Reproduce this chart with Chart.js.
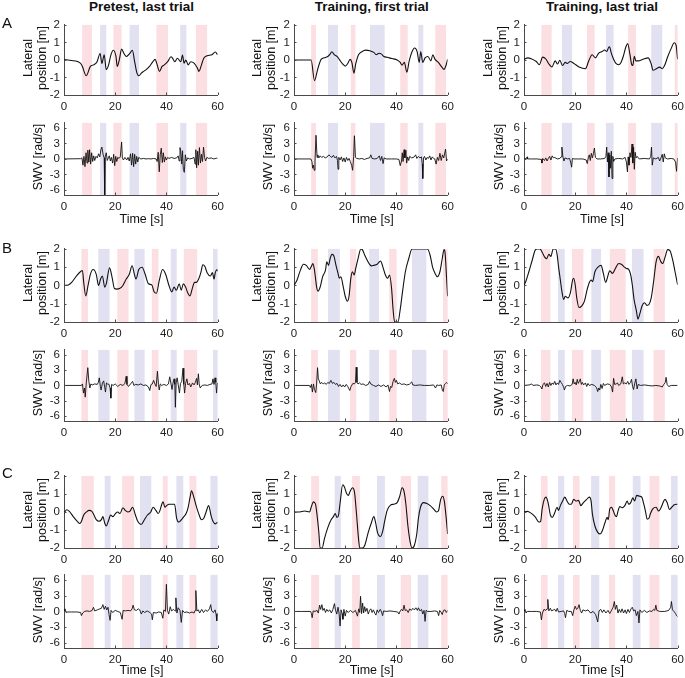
<!DOCTYPE html>
<html><head><meta charset="utf-8">
<script src="https://cdn.jsdelivr.net/npm/chart.js@4.4.0/dist/chart.umd.min.js"></script>
<style>
html,body{margin:0;padding:0;background:#fff;width:685px;height:678px;overflow:hidden;}
body{position:relative;font-family:"Liberation Sans",Arial,Helvetica,sans-serif;color:#111;}
canvas{position:absolute;}
.t{position:absolute;white-space:nowrap;line-height:1;}
.title{font-weight:bold;font-size:13.5px;transform:translateX(-50%);}
.letter{font-size:15px;}
.ylab{font-size:12.5px;line-height:14px;text-align:center;transform:translate(-50%,-50%) rotate(-90deg);}
.xlab{font-size:12.5px;line-height:14px;transform:translate(-50%,-50%);}
</style></head><body>
<script>
// ---------- tick labels / categories ----------
const columnTitles = ["Pretest, last trial", "Training, first trial", "Training, last trial"];
const rowLetters = ["A", "B", "C"];
const timeTicks = [0, 20, 40, 60];
const latTicks = [-2, -1, 0, 1, 2];
const swvTicks = [-6, -3, 0, 3, 6];

// ---------- stimulus bands [start, end] (s) ----------
const pinkA1 = [[7.1,10.9],[19.3,22.5],[36.1,40.6],[51.5,55.9]];
const blueA1 = [[14.1,16.5],[25.6,29.3],[45.4,47.8]];
const pinkA2 = [[6.7,8.6],[22.2,24.0],[41.5,44.4],[55.2,59.4]];
const blueA2 = [[13.3,17.2],[29.7,35.4],[48.6,50.5]];
const pinkA3 = [[6.8,10.8],[24.6,27.6],[40.7,43.7],[58.9,60]];
const blueA3 = [[14.8,18.8],[32.0,35.0],[49.7,54.0]];
const pinkB1 = [[6.8,9.4],[20.8,25.2],[34.3,36.9],[46.8,52.0]];
const blueB1 = [[13.4,17.8],[27.5,31.5],[41.7,44.0],[58.2,60]];
const pinkB2 = [[6.7,9.3],[21.9,24.3],[37.2,40.1],[58.2,60]];
const blueB2 = [[13.3,17.9],[29.4,33.2],[46.1,51.7]];
const pinkB3 = [[6.6,10.3],[18.7,23.2],[33.5,39.7],[50.6,55.0]];
const blueB3 = [[13.3,15.9],[26.3,30.1],[42.2,46.7]];
const pinkC1 = [[6.8,11.6],[22.7,27.4],[38.6,40.5],[49.0,51.7]];
const blueC1 = [[15.9,18.2],[29.7,34.1],[43.9,46.6],[57.2,60]];
const pinkC2 = [[6.7,9.8],[22.7,25.7],[41.7,45.7],[57.5,60]];
const blueC2 = [[15.9,18.3],[32.4,35.5],[48.3,52.5]];
const pinkC3 = [[6.6,9.2],[19.1,21.7],[33.2,35.6],[49.0,52.9]];
const blueC3 = [[13.3,15.7],[26.2,29.4],[42.5,45.5],[57.4,60]];

// ---------- lateral position [t (s), m] ----------
const latA1 = [[0,0.03],[3,-0.03],[6.4,-0.18],[7.1,-0.35],[8.7,-0.9],[10.3,-0.37],[11.6,-0.28],[12.9,-0.1],[14.1,0.37],[14.8,-0.2],[15.7,0.3],[16.5,-0.55],[17.4,-0.3],[18.3,0.28],[19.3,0.55],[20.3,0.2],[20.8,-0.37],[21.6,0],[22.5,0.62],[23.4,0.37],[24.4,0.2],[25.7,0.37],[26.7,0.55],[27.6,-0.1],[28.5,-0.75],[29.3,-0.9],[30.2,-0.75],[31.1,-0.65],[32.1,-0.55],[33.4,-0.37],[34.7,-0.1],[35.6,0.03],[36.2,-0.18],[37.3,-0.65],[38.3,-0.37],[39.2,-0.28],[40.5,-0.1],[41.8,0.18],[42.4,0.1],[43.3,-0.1],[44.3,0.1],[45.6,-0.1],[46.3,0.28],[46.9,-0.18],[47.6,0],[48.5,-0.28],[49.5,-0.1],[50.8,-0.18],[52.1,-0.46],[52.7,-0.65],[53.7,-0.28],[54.6,0.1],[55.9,0.24],[57.8,0.3],[59.1,0.45],[60,0.3]];
const latA2 = [[0,0],[6.7,0],[8,-1.18],[9.3,-0.5],[10.6,0.03],[11.9,0.12],[13.2,0.2],[14.1,0.33],[14.8,0.47],[15.7,0.3],[16.8,0.2],[17.7,0.03],[19,-0.23],[20,-0.35],[21,-0.2],[21.9,0.03],[22.6,-0.14],[23.4,-0.75],[24.1,-0.23],[25.2,0.3],[26.5,0.47],[28,0.56],[29.7,0.52],[31.2,0.43],[32.1,0.3],[33.2,0.38],[34.2,0.33],[35.1,0.2],[36.4,0.15],[38.3,0.08],[40.3,0],[41.5,-0.14],[42.2,-0.3],[43.1,-0.14],[44.1,-0.7],[45,-0.05],[46.1,0.47],[47.1,0.68],[48.1,0.47],[48.9,-0.14],[49.5,0.47],[50.3,-0.14],[51.2,0.12],[52.3,0.2],[53.5,-0.05],[54.2,0.3],[55.1,0.03],[56.4,-0.14],[57.7,-0.4],[58.6,-0.54],[59.4,-0.3],[60,0.03]];
const latA3 = [[0,0.03],[1.5,0.12],[2.8,0.07],[4.8,-0.09],[6,-0.27],[7.3,0.16],[8.6,0.04],[9.6,-0.2],[10.9,-0.4],[12.2,-0.05],[13.1,-0.23],[14,-0.02],[15,-0.32],[16.1,-0.14],[17,-0.2],[18,-0.09],[19.5,-0.2],[21.5,-0.4],[24,-0.5],[25.3,-0.05],[26.6,0.3],[27.9,0.12],[29.2,0.39],[30.5,0.48],[31.5,0.57],[32.3,0.48],[33,0.7],[33.4,0.75],[34.1,0.39],[35,0.04],[35.9,-0.2],[36.9,-0.27],[37.9,-0.14],[38.8,0.21],[39.8,0.75],[40.5,0.93],[41.4,0.3],[42,-0.23],[42.5,-0.32],[43.1,0.21],[43.7,-0.05],[44.6,-0.05],[46.5,0.04],[48.5,0.12],[49.7,-0.23],[50.4,-0.59],[51.7,-0.5],[53,-0.41],[54,-0.5],[54.9,-0.32],[56.2,0.21],[57.5,0.66],[58.7,0.98],[59.4,0.84],[60,0.04]];
const latB1 = [[0,0],[1.7,0.03],[3,0.17],[4.9,0.52],[6.6,0.78],[7.2,0.82],[7.7,0.17],[8.5,-0.57],[9.4,0],[10.3,0.61],[11.4,0.87],[12.6,0.61],[13.5,0],[14.3,0.35],[15,0.52],[15.9,-0.09],[16.5,0.09],[17.8,0.96],[18.8,0.43],[19.7,-0.17],[20.6,-0.2],[21.7,-0.17],[23,0],[24.3,0.35],[25.5,0.61],[26.6,1.08],[27.5,0.61],[28.1,0.35],[29.2,0.87],[30.5,1.0],[31.7,0.61],[33,0.09],[34.3,0.03],[35.2,-0.35],[36.1,-0.43],[37.2,0.26],[38.5,0.87],[39.7,0.61],[41,0],[42.1,-0.35],[43,-0.09],[43.9,-0.26],[45,0.09],[45.8,-0.26],[46.6,0.09],[47.5,-0.09],[48.4,-0.43],[49.2,-0.57],[50.1,-0.17],[51,0.17],[51.7,0.17],[52.6,0.35],[53.5,0.73],[54.2,1.13],[55,1.05],[55.9,0.7],[57.2,0.52],[58,0.7],[58.6,0.35],[59.1,0.7],[59.7,0.87],[60,0.78]];
const latB2 = [[0,0],[1.2,0.3],[2.5,0.84],[3.7,1.16],[4.8,1.1],[6.1,0.88],[6.7,1.02],[7.4,1.2],[8,0.84],[8.9,-0.14],[9.4,-0.32],[10.3,-0.05],[11.2,0.48],[12.3,0.84],[12.8,1.29],[13.5,1.1],[14.1,1.46],[14.8,1.7],[15.5,1.64],[16.4,1.1],[17.2,0.66],[17.7,0.39],[18.3,0.48],[19.2,-0.05],[20,-0.59],[20.9,-0.86],[21.5,-0.59],[22.2,0.39],[22.8,0.75],[23.5,0.57],[24.1,0.93],[25,1.46],[26.1,2.0],[26.7,1.96],[27.7,1.64],[28.6,1.38],[29.3,1.2],[30.2,1.07],[31.2,1.1],[32.5,1.16],[33.8,1.34],[34.7,1.02],[35.7,0.57],[36.6,0.39],[37.3,0.57],[38.1,-0.14],[38.7,-1.3],[39.3,-2],[40.6,-2],[41.5,-1.3],[42.5,-0.23],[43.5,0.75],[44.8,1.46],[46.1,2.0],[52.1,2.0],[53.2,1.64],[54.1,1.02],[55.1,0.66],[56,0.48],[57,0.75],[57.9,1.46],[58.6,1.96],[59,1.8],[59.6,0.39],[60,-0.59]];
const latB3 = [[0,0],[0.9,0.3],[1.9,0.75],[3.2,1.38],[4.3,1.91],[5.2,2.0],[6.2,2.0],[7.1,1.82],[8.1,1.55],[8.8,1.46],[9.7,1.7],[10.5,1.59],[11.4,2.0],[12.3,2.0],[12.9,1.73],[13.5,1.02],[14.2,0.3],[14.8,-0.32],[15.5,-0.77],[16.1,-0.59],[17.2,-0.68],[18.1,-0.41],[19,0.3],[19.4,0.39],[20,0.04],[20.6,-0.68],[21.5,-1.21],[22.6,-1.12],[23.6,-0.86],[24.5,-0.32],[25.4,0.12],[26.2,0.3],[26.8,0.21],[27.7,0.75],[29,1.02],[30.1,1.1],[31,0.66],[31.9,0.16],[32.5,0.39],[33.5,0.8],[34.6,0.66],[35.7,0.93],[37,1.2],[38,1.16],[39.1,1.02],[40,0.93],[40.9,0.88],[41.7,0.57],[42.3,0.04],[43,-0.77],[43.9,-1.39],[44.5,-1.84],[45.2,-1.57],[46.1,-1.12],[47.1,-0.95],[48,-1.09],[48.8,-1.04],[49.7,-0.68],[50.7,0.3],[51.6,1.29],[52.5,1.59],[53.5,1.29],[54.2,1.2],[55.1,1.55],[56.1,1.96],[57,1.91],[58.1,1.38],[59,0.75],[60,0.04]];
const latC1 = [[0,-0.09],[1,0.12],[2.1,0.03],[3.6,-0.26],[5.2,-0.52],[6.2,-0.64],[6.8,-0.52],[7.7,-0.17],[8.8,0],[9.8,0.09],[10.8,0.05],[11.7,-0.17],[12.6,-0.43],[13.7,-0.52],[14.6,-0.43],[15.2,-0.26],[15.9,-0.61],[16.5,-0.78],[17.5,-0.43],[18.2,-0.17],[19.1,-0.26],[20.1,-0.09],[21,0],[21.9,-0.09],[23,0.23],[23.9,0.09],[24.9,0],[25.8,0.05],[26.8,0.26],[27.9,-0.17],[28.8,-0.52],[30.1,-0.7],[31.4,-0.43],[32.6,-0.17],[33.9,0],[34.8,0.26],[35.9,0.09],[36.8,-0.09],[37.5,0.09],[38.2,0.43],[38.7,0.57],[39.4,0.26],[40.1,0.35],[41,0.43],[42.3,0.43],[43.2,0.43],[44,-0.35],[44.9,-0.56],[45.9,-0.43],[46.8,-0.26],[47.7,-0.09],[48.5,0.26],[49.2,0.78],[49.8,1.18],[50.7,0.82],[51.6,0.35],[52.6,-0.09],[53.7,-0.43],[54.6,-0.35],[55.5,0],[56.5,0.35],[57.4,-0.17],[58.2,-0.52],[59.1,-0.66],[60,-0.57]];
const latC2 = [[0,0],[2.2,0],[4.1,0.05],[6.1,0],[6.7,0.26],[7.6,0.56],[8.4,0.43],[9,-0.17],[9.7,-1.13],[10.2,-2],[11,-2],[11.9,-1.48],[13.2,-0.87],[14.5,-0.43],[15.4,-0.26],[16.1,-0.09],[16.8,-0.31],[17.4,-0.17],[18.1,0.61],[19,1.51],[19.7,1.39],[20.5,1.04],[21.2,0.92],[21.9,1.13],[22.8,1.34],[23.6,1.13],[24.4,-0.09],[25.2,-1.48],[25.7,-2],[26.7,-2],[27.7,-1.83],[29,-1.13],[30.2,-0.61],[31.2,-0.26],[31.9,-0.61],[32.6,-1.13],[33.8,-1.36],[34.7,-1.04],[35.4,-0.52],[36.4,0.09],[37.7,0.38],[39,0.43],[40.3,0.52],[41.3,0.87],[42.2,1.34],[43,1.13],[43.7,0.43],[44.5,-0.78],[45.4,-1.69],[46.1,-2],[47,-1.86],[48,-1.17],[48.6,-0.35],[49.4,0.26],[50.6,0.52],[51.9,0.47],[53.2,0.35],[54.5,0.17],[55.7,0],[56.4,0.05],[57.3,0.7],[58.1,0.87],[58.7,0.61],[59.4,-0.26],[60,-1.22]];
const latC3 = [[0,0],[1.3,0.03],[2.6,-0.05],[4.3,-0.26],[5.8,-0.56],[6.5,-0.52],[7.1,0.17],[7.9,0.7],[8.6,0.82],[9.4,0.52],[10.3,-0.17],[11,-0.31],[12,-0.05],[12.9,0.26],[13.5,0.09],[14.2,0.35],[15.1,0.61],[15.9,0.82],[16.8,0.61],[17.7,0.43],[18.5,0.43],[19.4,0.7],[20.3,0.61],[21.3,0.64],[22.2,0.35],[23.2,0.52],[24.5,0.7],[25.5,0.82],[26.2,0.61],[26.7,-0.09],[27.7,-0.78],[28.8,-1.13],[29.7,-1.22],[30.6,-1.04],[31.6,-0.61],[32.5,-0.3],[32.9,-0.43],[33.5,0.17],[34.2,0.26],[34.8,0.09],[35.5,-0.17],[36.1,-0.26],[36.8,0.09],[37.4,0.3],[38.3,0.23],[39.4,0.35],[40.3,0.61],[40.9,0.43],[41.7,0.52],[42.5,0.78],[43.2,0.61],[44,0.92],[45.2,0.87],[46,0.82],[46.8,0.43],[47.5,0],[48.1,-0.4],[48.8,-0.35],[49.4,-0.09],[50.3,0.17],[51.6,0.26],[52.6,0.05],[53.5,0.23],[54.6,0.61],[55.1,0.7],[55.9,0.52],[56.8,0.14],[57.7,0.26],[58.7,0.4],[60,0.43]];

// ---------- steering wheel velocity [t (s), rad/s] ----------
const swvA1 = [[0,0],[6.5,0.05],[7,0.2],[7.4,-1.2],[7.8,0.5],[8.2,-1.5],[8.6,1.2],[9,-0.8],[9.3,1.7],[9.7,-0.6],[10,1.8],[10.4,-1.0],[10.8,1.2],[11.2,-0.5],[11.6,0.6],[12,-0.3],[12.5,0.5],[13,0.2],[13.5,1.0],[14,0.4],[14.4,1.8],[14.8,2.3],[15.3,0.8],[15.7,0.2],[15.9,-7.5],[16.1,0.4],[16.5,1.2],[16.9,-0.3],[17.3,0.2],[17.7,0.6],[18.1,-0.4],[18.5,0.3],[19,-0.8],[19.4,0.9],[19.8,-1.3],[20.2,0.5],[20.6,-0.5],[21,0.3],[21.5,0.1],[22,0.4],[22.5,3.3],[22.8,0.2],[23.2,-0.2],[23.8,0.3],[24.5,-0.2],[25,0.3],[25.5,-0.4],[26,1.0],[26.4,-1.2],[26.8,1.1],[27.2,-1.5],[27.6,0.9],[28,-1.0],[28.4,0.5],[28.8,-0.6],[29.2,0.3],[30,0],[31,0.1],[32,0],[33,0.05],[34,0],[35,0.1],[36,0],[36.4,-0.5],[36.8,1.3],[37.2,-2.5],[37.6,0.8],[38,2.1],[38.4,-0.7],[38.8,1.2],[39.2,-0.6],[39.6,0.4],[40,-0.2],[40.5,0.3],[41,0.1],[42,0.3],[43,0.1],[44,0.2],[44.6,0.6],[45,-0.4],[45.3,2.2],[45.6,1.5],[46,-1.0],[46.3,1.6],[46.6,-2.0],[47,-2.6],[47.4,0.8],[47.8,-0.4],[48.3,0.2],[49,0],[50,0.1],[50.8,0.3],[51.2,-1.0],[51.5,1.8],[51.8,-1.7],[52.2,1.5],[52.5,-1.2],[52.9,2.2],[53.3,-0.8],[53.7,0.9],[54.1,-0.5],[54.5,2.3],[54.9,0.3],[55.3,-0.4],[55.8,0.3],[56.5,0.1],[57.5,0.2],[58.5,0],[59.5,0.15],[60,0.1]];
const swvA2 = [[0,0],[6.6,0],[7,-0.5],[7.3,-1.8],[7.6,-1.2],[7.9,-2.2],[8.2,-0.5],[8.6,4.6],[9,0.3],[9.3,0.8],[9.7,0.2],[10.2,0.6],[10.8,0.3],[11.5,0.5],[12.2,0.2],[13,0.4],[13.6,0.8],[14.2,0.5],[14.8,0.3],[15.4,0.7],[16,0.2],[16.6,0.5],[17,-0.3],[17.2,-2.0],[17.5,0.3],[18,-0.2],[18.5,0.4],[19,-0.5],[19.5,0.2],[20,-0.6],[20.5,0.3],[21,-0.3],[21.5,0.1],[22,-0.5],[22.5,-1.2],[22.9,-2.2],[23.3,0.5],[23.6,4.5],[24,0.3],[24.5,0.1],[25.5,0],[26.5,0.1],[27.5,-0.1],[28.5,0.1],[29.5,0.2],[30,0.8],[30.5,0.1],[31.5,0],[32.5,0.1],[33.3,0.6],[33.8,-0.3],[34.3,0.5],[34.8,-0.9],[35.2,0.2],[36,0],[38,0],[40,0],[41,-0.1],[41.5,-1.3],[42,-0.4],[42.3,1.2],[42.6,-0.5],[43,1.8],[43.3,0.2],[43.7,1.7],[44,-0.8],[44.4,0.4],[44.8,-0.3],[45.2,0.5],[46,0.2],[47,0.4],[47.5,0.8],[48,0.1],[48.6,0.5],[49.2,0.2],[49.8,0.4],[50.1,-1.0],[50.3,-3.8],[50.6,0.2],[51,0.5],[51.5,-0.2],[52,0.3],[52.5,0.1],[53,0.6],[53.5,-0.2],[54,0.4],[54.5,0.1],[55,0],[55.5,-1.0],[56,0.3],[56.5,-0.3],[57,1.1],[57.5,-0.3],[58,0.8],[58.5,0.2],[59.2,1.9],[59.6,-0.4],[60,0]];
const swvA3 = [[0,0],[1,0.1],[1.2,0.4],[1.4,0],[3,0],[5,0],[6.8,-0.1],[7,-0.8],[7.3,0.1],[8,-0.3],[8.5,0.2],[9,-0.4],[9.5,0.1],[10,0.5],[10.5,-0.2],[11,0.6],[11.5,0.2],[12,0.3],[13,0],[14,0.1],[14.5,0.4],[14.8,2.3],[15.2,0.4],[15.6,-0.4],[16,0.2],[17,0],[17.8,0.1],[18.3,-0.8],[18.6,-1.6],[18.9,0.1],[19.5,0],[21,0],[23,0],[24.3,-0.2],[24.7,-0.9],[25.1,0.2],[25.5,0.8],[25.9,-0.3],[26.3,1.1],[26.7,0.2],[27.1,1.0],[27.5,2.1],[27.9,0.3],[28.5,0],[30,0],[31.5,0.1],[32,0.5],[32.3,2.3],[32.6,-0.6],[32.9,1.2],[33.2,-3.5],[33.5,0.8],[33.8,-1.8],[34.1,1.5],[34.4,-3.8],[34.7,0.5],[35,-0.5],[35.5,0],[37,0.1],[38.5,0],[39.5,0.3],[40,-0.6],[40.4,-2.5],[40.7,0.4],[41,-1.2],[41.4,1.2],[41.8,0.3],[42.2,2.9],[42.5,-0.8],[42.8,2.3],[43.1,-2.0],[43.4,1.3],[43.8,0.2],[44.2,0.5],[45,0],[47,0.1],[49,0],[49.5,0.5],[49.8,2.3],[50.1,-1.2],[50.5,0.2],[51.5,0],[52.5,0.3],[53,-0.4],[53.5,0.2],[54,0.9],[54.4,-0.6],[54.8,1.0],[55.2,0.2],[56,0],[57.5,0.1],[58.5,0],[59.2,-0.6],[59.6,-2.4],[60,0.2]];
const swvB1 = [[0,0],[6.8,0],[7.2,0.3],[7.6,-1.5],[8,-0.5],[8.3,-2.3],[8.7,0.5],[9.3,3.5],[9.7,0.8],[10.1,-0.5],[10.5,0.3],[11,0.1],[12,0.3],[13,0.2],[13.4,0.6],[13.8,1.5],[14.2,-0.2],[14.5,-0.9],[15,0.5],[15.5,0.9],[15.9,-0.4],[16.2,-1.3],[16.6,0.5],[17,0.3],[17.6,0.2],[18,-0.5],[18.3,-2.5],[18.6,0.2],[19.2,0],[20,0.3],[21,-0.2],[22,0.2],[23,0],[23.8,0.4],[24.3,1.8],[24.6,0.2],[25.2,-0.2],[26,0.3],[26.8,0.8],[27.3,0],[28,0.2],[29,0.1],[30,0.3],[31,0],[32,0.1],[33,-0.3],[33.5,-1.0],[34,0.2],[34.5,0.3],[35,1.0],[35.5,0.3],[36,-0.2],[36.5,2.8],[36.9,0.2],[37.2,-0.9],[37.6,0.3],[38.2,0],[39,0.2],[40,0],[40.8,0.3],[41.3,1.7],[41.8,0.3],[42.2,-0.8],[42.6,0.5],[43,1.3],[43.3,0.2],[43.5,-4.3],[43.8,0.5],[44.2,1.5],[44.6,0.2],[45.1,-1.5],[45.5,0.4],[46,0.8],[46.5,3.4],[46.8,0.2],[47.1,-1.5],[47.5,0.4],[48,1.3],[48.4,0.1],[49,0.4],[49.5,-0.3],[50.2,0.5],[50.8,0.1],[51.3,0.6],[51.8,1.4],[52.1,0.1],[52.5,2.3],[52.8,0.3],[53.2,-0.5],[54,0],[55,0.1],[56,0],[57,0.2],[57.8,0.3],[58.2,1.3],[58.6,0.2],[59,1.5],[59.3,0.6],[59.6,-1.5],[60,0.5]];
const swvB2 = [[0,0],[6,0],[6.4,-0.4],[6.8,0.2],[7.2,-1.3],[7.6,0.3],[8,-0.8],[8.5,-1.4],[8.8,0.1],[9.2,3.5],[9.5,1.3],[9.8,1.0],[10.3,0.3],[10.8,0.6],[11.4,0.3],[12,0.5],[12.6,0.2],[13.2,0.6],[13.8,0.4],[14.4,1.0],[15,0.4],[15.6,0.6],[16.2,0.2],[16.8,0.4],[17.4,-0.2],[18,0.2],[18.6,-0.3],[19.2,0.1],[19.8,-0.3],[20.4,0.2],[21,-0.2],[21.8,-1.0],[22.3,-0.2],[23,0.4],[23.6,0.3],[24,0.6],[24.3,3.6],[24.6,0.6],[25,0.3],[25.6,0.5],[26.2,0.2],[27,0.3],[28,0],[29,0.2],[29.5,0.8],[30,0.3],[31,0],[32,-0.2],[33,0.1],[34,-0.2],[35,0.1],[36,-0.3],[36.7,0.1],[37.3,-1.2],[37.7,-0.2],[38.2,-0.4],[38.7,0.8],[39.2,1.4],[39.6,0.6],[40,1.0],[40.5,0.3],[41.2,0.5],[42,0.2],[43,0.3],[44,0.1],[45,0.2],[46,0.7],[46.4,0.1],[47.5,0],[49,0.1],[51,0],[53,0],[54.5,0.1],[55.3,-0.5],[55.8,0.1],[56.5,0],[57.5,0.1],[58,-1.0],[58.3,-1.2],[58.7,0.1],[59.2,0.4],[59.6,0.6],[60,0.3]];
const swvB3 = [[0,0],[2,0.1],[3,0.3],[3.5,0],[5,0.1],[6,0],[6.6,-0.3],[7,-0.7],[7.4,0.2],[8,0.5],[8.5,-0.2],[9,0.4],[9.5,-0.3],[10,0.6],[10.5,0],[11,0.5],[11.5,0.2],[12,0.8],[12.5,0.1],[13,0.5],[13.5,0.2],[14,1.0],[14.5,0.6],[15,0.2],[15.5,-0.4],[15.8,-0.9],[16.2,-0.2],[17,0],[18,-0.1],[18.8,0.2],[19.2,1.3],[19.6,0.3],[20,0.6],[20.4,0.1],[20.8,1.2],[21.2,0.4],[21.6,0.8],[22,1.3],[22.4,0.2],[22.8,0.6],[23.3,0.1],[24,0.5],[24.5,-0.2],[25,0.4],[25.5,0],[26.5,0.2],[27.5,0],[28.3,-0.4],[28.8,-1.2],[29.2,-0.5],[29.6,-0.9],[30,0.2],[30.5,-0.6],[31,0.4],[31.5,0],[32.5,0.3],[33.5,0.2],[34.2,-0.3],[34.6,-1.3],[35,1.4],[35.4,0.2],[36,0.3],[36.5,0.5],[37,0],[37.8,0.3],[38.4,1.7],[38.8,0.3],[39.3,0.5],[40,0.3],[40.5,0.8],[41,0.2],[41.6,0.6],[42,1.2],[42.4,-0.2],[42.8,-0.8],[43.2,0.3],[43.7,1.3],[44.2,-0.7],[44.6,0.2],[45.5,0],[47,0.1],[48.5,0],[50,-0.1],[51.5,0],[53,-0.1],[54,-0.3],[54.6,0.2],[55.2,0.6],[55.5,1.6],[55.9,0.2],[56.5,-0.2],[57.5,0],[59,0],[60,0]];
const swvC1 = [[0,0],[0.4,0.5],[0.8,-0.2],[1.5,-0.1],[3,-0.1],[5,-0.1],[6.5,-0.2],[6.8,-0.8],[7.3,-0.3],[8,0],[9,0.1],[10,0],[11,0.2],[11.5,0.8],[12,0.1],[13,0.3],[14,0.5],[14.6,0.6],[15.2,1.3],[15.7,0.4],[16.2,1.0],[16.7,0.3],[17.2,0.8],[17.6,-0.6],[18,-1.7],[18.4,0.2],[19,-0.2],[20,0.2],[21,0],[22,-0.2],[22.7,-1.5],[23.1,0.2],[24,0.1],[25,0.2],[26,0.1],[26.6,0.5],[27,1.2],[27.5,0.3],[28.3,0.2],[29,0.5],[29.6,0.3],[30.2,-0.5],[30.8,0.1],[31.5,-0.2],[32.5,0.1],[33.5,-0.2],[34.2,-0.5],[34.5,-1.6],[34.9,-0.2],[36,-0.3],[37,-0.1],[38,-0.2],[38.6,-1.3],[39,0.3],[39.6,0],[40,5.2],[40.4,0.2],[40.9,-0.5],[41.5,0.9],[42,0.1],[42.8,0.4],[43.4,0.1],[43.7,2.6],[44.1,-0.3],[44.6,0.7],[45.3,0.2],[45.8,-2.1],[46.3,0.2],[47,-0.2],[48,-0.1],[49,-0.3],[50,-0.1],[50.8,-0.3],[51.2,0.2],[51.5,4.0],[51.9,0.1],[52.5,0.3],[53,-0.3],[53.8,0.4],[54.5,-0.2],[55.3,0.3],[56,0],[56.8,0.5],[57.3,1.3],[57.7,0.1],[58.4,-0.2],[59,0.3],[59.4,-0.5],[59.7,-1.8],[60,-0.3]];
const swvC2 = [[0,0],[3,0],[6.5,0],[6.8,-0.4],[7.1,-1.2],[7.5,0.1],[8.2,0],[9,0.2],[9.5,-0.3],[10,1.2],[10.4,0.4],[10.9,1.3],[11.3,0.2],[11.8,0.6],[12.3,-0.2],[12.8,0.4],[13.3,0],[14,0.3],[14.6,-0.3],[15.2,0.4],[15.8,1.5],[16.2,0.3],[16.7,-0.5],[17.2,0.8],[17.6,-0.3],[18,-2.8],[18.4,0.3],[18.8,-0.4],[19.1,-1.5],[19.5,0.4],[20,-0.9],[20.5,0.2],[21.2,-0.2],[22,0.2],[23,-0.2],[24,0.2],[24.8,-0.9],[25.3,0.5],[25.7,-0.2],[26,2.9],[26.4,-0.4],[26.8,1.6],[27.2,-0.3],[27.6,0.9],[28,0],[28.5,0.6],[29,-0.5],[29.5,0.2],[30,0.5],[30.5,-0.2],[31,0.3],[31.6,-0.4],[32,-0.7],[32.5,0.3],[33,-0.2],[33.7,0.4],[34.2,-0.1],[34.6,-0.8],[35,0.1],[36,0],[37.5,0.1],[39,0],[40.5,-0.1],[41,-0.5],[41.5,0.1],[42,0.4],[42.5,0.1],[43,1.2],[43.4,0.2],[44,0.3],[44.6,-0.2],[45.2,0.5],[45.8,0.2],[46.4,0.6],[47,0.3],[47.6,0.7],[48.2,0.2],[48.6,0.7],[49.2,0.1],[49.8,0.4],[50.3,-0.5],[50.8,0.2],[51.2,-1.9],[51.6,0.2],[52.2,0],[53.5,0],[55,0.1],[56,0],[56.5,-0.8],[56.9,0.2],[57.4,-0.1],[57.9,-0.6],[58.4,0.2],[59,0.3],[59.5,-0.2],[60,0.2]];
const swvC3 = [[0,0],[0.4,0.4],[0.8,-0.3],[1.3,0],[3,0],[5,0],[6.4,-0.1],[6.8,-1.6],[7.2,-0.3],[7.8,0.4],[8.5,0.2],[9,0.5],[9.3,2.3],[9.7,0.1],[10.3,0.6],[10.8,0.1],[11.5,0.3],[12,0.4],[12.5,0],[13,0.6],[13.5,-0.1],[14.5,0],[15.5,0.1],[15.9,-0.4],[16.2,-1.2],[16.7,0.2],[17.5,0],[18.5,0],[19,-0.8],[19.5,0.3],[20,1.0],[20.5,0.4],[21,0.6],[21.5,1.3],[22,0.2],[22.5,-0.3],[23,0.3],[24,0.1],[25,0.3],[26,-0.3],[27,0],[28,-0.6],[28.8,-2.0],[29.3,0.1],[30,0.4],[30.6,-0.2],[31.2,0.3],[32,-0.3],[32.8,0.2],[33.5,-0.4],[34.3,0.3],[34.8,0.8],[35.3,1.9],[35.7,0.4],[36.2,1.2],[36.7,-0.3],[37.2,0.4],[37.8,-0.2],[38.3,0.5],[38.9,-0.3],[39.5,0.3],[40,-0.4],[40.6,0.4],[41.2,-0.2],[41.8,0.5],[42.3,0.8],[42.8,0.1],[43.4,0.3],[43.9,-0.8],[44.5,0],[44.9,-2.2],[45.3,0.3],[46,-0.2],[47,0.2],[48,-0.2],[49,0.1],[50,0],[50.6,0.4],[51.1,0.2],[51.5,1.2],[51.9,0.2],[53,0],[55,0],[56.5,0.2],[57.3,0.8],[57.6,1.9],[58,0.3],[58.6,0],[59.2,-0.4],[59.6,-0.8],[60,-1.0]];

// ---------- layout ----------
const colX = [[63.5,219.5],[294,449.5],[524,680]];
const rowLat = [[20.5,94.5],[245,321.5],[471.5,548]];
const rowSwv = [[119,194.5],[345.5,421],[571,648]];
const PINK = '#fbdfe2', BLUE = '#e1e1f1', AX = '#4a4a4a';

const panels = [
  [[latA1,swvA1,pinkA1,blueA1],[latA2,swvA2,pinkA2,blueA2],[latA3,swvA3,pinkA3,blueA3]],
  [[latB1,swvB1,pinkB1,blueB1],[latB2,swvB2,pinkB2,blueB2],[latB3,swvB3,pinkB3,blueB3]],
  [[latC1,swvC1,pinkC1,blueC1],[latC2,swvC2,pinkC2,blueC2],[latC3,swvC3,pinkC3,blueC3]]
];

const bandsPlugin = {
  id:'bands',
  beforeDatasetsDraw(c, args, o){
    const {ctx, chartArea:a, scales:{x}} = c;
    ctx.save();
    const draw = (list, col) => list.forEach(([s,e]) => {
      const l = x.getPixelForValue(s), r = x.getPixelForValue(e);
      ctx.fillStyle = col; ctx.fillRect(l, a.top, r-l, a.bottom-a.top);
    });
    draw(o.pink||[], PINK); draw(o.blue||[], BLUE);
    ctx.restore();
  }
};
const inTicks = {
  id:'inticks',
  afterDraw(c){
    const {ctx, chartArea:a, scales:{x,y}} = c;
    ctx.save(); ctx.strokeStyle = AX; ctx.lineWidth = 1; ctx.beginPath();
    x.ticks.forEach(t => { const p = Math.round(x.getPixelForValue(t.value))+0.5; ctx.moveTo(p,a.bottom); ctx.lineTo(p,a.bottom-2.5); });
    y.ticks.forEach(t => { const p = Math.round(y.getPixelForValue(t.value))+0.5; ctx.moveTo(a.left,p); ctx.lineTo(a.left+2.5,p); });
    ctx.stroke(); ctx.restore();
  }
};

const padL = 30, padT = 7, padR = 9, padB = 20;
const tickFont = {family:'"Liberation Sans", Arial, sans-serif', size:11.5};

function addText(cls, txt, x, y){
  const d = document.createElement('div');
  d.className = 't ' + cls; d.innerHTML = txt;
  d.style.left = x + 'px'; d.style.top = y + 'px';
  document.body.appendChild(d);
}

function makePlot(x0, x1, y0, y1, pts, pink, blue, isLat){
  const cv = document.createElement('canvas');
  const L = Math.round(x0) - padL, T = Math.round(y0) - padT;
  const W = Math.round(x1) - Math.round(x0) + padL + padR;
  const H = Math.round(y1) - Math.round(y0) + padT + padB;
  cv.width = W; cv.height = H;
  cv.style.left = L + 'px'; cv.style.top = T + 'px';
  cv.style.width = W + 'px'; cv.style.height = H + 'px';
  document.body.appendChild(cv);
  const yt = isLat ? latTicks : swvTicks;
  new Chart(cv, {
    type:'line',
    data:{datasets:[{
      data: pts.map(([t,v]) => ({x:t, y:v})),
      borderColor:'#111', borderWidth: isLat ? 1.1 : 0.9, pointRadius:0,
      cubicInterpolationMode: isLat ? 'monotone' : 'default', tension:0, fill:false
    }]},
    options:{
      responsive:false, animation:false, events:[],
      layout:{padding:{top:padT, right:padR, left:0, bottom:0}},
      plugins:{legend:{display:false}, tooltip:{enabled:false}, bands:{pink, blue}},
      scales:{
        x:{type:'linear', min:0, max:60,
          afterFit:s => { s.height = padB; },
          afterBuildTicks:s => { s.ticks = timeTicks.map(v => ({value:v})); },
          ticks:{font:tickFont, color:'#222', padding:5, maxRotation:0, autoSkip:false},
          grid:{drawOnChartArea:false, drawTicks:false},
          border:{color:AX, width:1}},
        y:{type:'linear', min: isLat ? -2 : -7, max: isLat ? 2 : 7,
          afterFit:s => { s.width = padL; },
          afterBuildTicks:s => { s.ticks = yt.map(v => ({value:v})); },
          ticks:{font:tickFont, color:'#222', padding:4, autoSkip:false},
          grid:{drawOnChartArea:false, drawTicks:false},
          border:{color:AX, width:1}}
      }
    },
    plugins:[bandsPlugin, inTicks]
  });
}

const ylabOffsets = [0, 229.5, 460.5];
for (let r = 0; r < 3; r++){
  for (let c = 0; c < 3; c++){
    const [lat, swv, pink, blue] = panels[r][c];
    const [x0, x1] = colX[c];
    makePlot(x0, x1, rowLat[r][0], rowLat[r][1], lat, pink, blue, true);
    makePlot(x0, x1, rowSwv[r][0], rowSwv[r][1], swv, pink, blue, false);
    const off = ylabOffsets[c];
    addText('ylab', 'Lateral<br>position [m]', 34.5 + off, (rowLat[r][0] + rowLat[r][1]) / 2);
    addText('ylab', 'SWV [rad/s]', 38 + off, (rowSwv[r][0] + rowSwv[r][1]) / 2);
  }
}
for (let c = 0; c < 3; c++){
  const cx = (colX[c][0] + colX[c][1]) / 2;
  addText('title', columnTitles[c], cx, 0);
  addText('xlab', 'Time [s]', cx, 219);
  addText('xlab', 'Time [s]', cx, 670);
}
const letterY = [15, 240, 465];
rowLetters.forEach((l, i) => addText('letter', l, 2, letterY[i]));
</script>
</body></html>
